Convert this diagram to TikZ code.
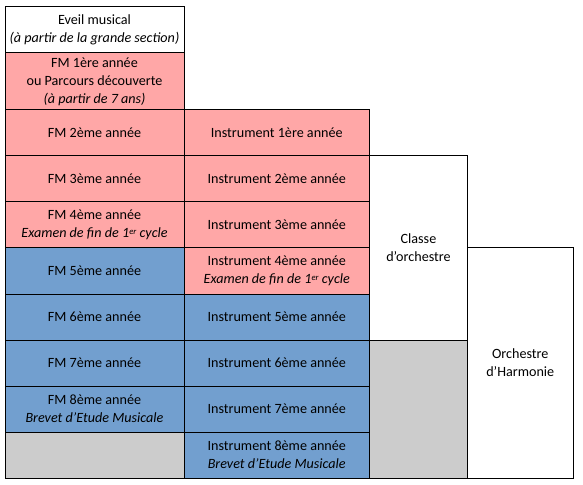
\documentclass[tikz,border=0pt]{standalone}
\usepackage{fontspec}
\setmainfont{Carlito}
\definecolor{pinkc}{RGB}{255,167,167}
\definecolor{bluec}{RGB}{114,159,207}
\definecolor{grayc}{RGB}{204,204,204}
\newcommand{\supx}[1]{\raisebox{0.45ex}{\fontsize{6.5}{7}\selectfont #1}}
\begin{document}
\begin{tikzpicture}[x=0.75pt,y=-0.75pt,
  cell/.style 2 args={draw=black, line width=0.75pt, inner sep=0pt, outer sep=0pt,
    minimum width=#1*0.75pt, minimum height=#2*0.75pt, align=center,
    font=\fontsize{10.6}{13.5}\selectfont},
  pk/.style={fill=pinkc}, bl/.style={fill=bluec}, gr/.style={fill=grayc}, wh/.style={fill=white}]
\useasboundingbox (0,0) rectangle (583,485);
% column A
\node[cell={179}{46}, wh] (eveil) at (94.5,30) {Eveil musical\\\textit{(à partir de la grande section)}};
\node[cell={179}{57}, pk] (fm1) at (94.5,81.5) {FM 1ère année\\ou Parcours découverte\\\textit{(à partir de 7 ans)}};
\node[cell={179}{46}, pk] (fm2) at (94.5,133) {FM 2ème année};
\node[cell={179}{46}, pk] (fm3) at (94.5,179) {FM 3ème année};
\node[cell={179}{46}, pk] (fm4) at (94.5,225) {FM 4ème année\\\textit{Examen de fin de 1\supx{er} cycle}};
\node[cell={179}{46}, bl] (fm5) at (94.5,271) {FM 5ème année};
\node[cell={179}{46}, bl] (fm6) at (94.5,317) {FM 6ème année};
\node[cell={179}{46}, bl] (fm7) at (94.5,363) {FM 7ème année};
\node[cell={179}{46}, bl] (fm8) at (94.5,409) {FM 8ème année\\\textit{Brevet d’Etude Musicale}};
\node[cell={179}{46}, gr] (ga) at (94.5,455) {};
% column B
\node[cell={185.5}{46}, pk] (i1) at (276.75,133) {Instrument 1ère année};
\node[cell={185.5}{46}, pk] (i2) at (276.75,179) {Instrument 2ème année};
\node[cell={185.5}{46}, pk] (i3) at (276.75,225) {Instrument 3ème année};
\node[cell={185.5}{46}, pk] (i4) at (276.75,271) {Instrument 4ème année\\\textit{Examen de fin de 1\supx{er} cycle}};
\node[cell={185.5}{46}, bl] (i5) at (276.75,317) {Instrument 5ème année};
\node[cell={185.5}{46}, bl] (i6) at (276.75,363) {Instrument 6ème année};
\node[cell={185.5}{46}, bl] (i7) at (276.75,409) {Instrument 7ème année};
\node[cell={185.5}{46}, bl] (i8) at (276.75,455) {Instrument 8ème année\\\textit{Brevet d’Etude Musicale}};
% column C
\node[cell={98}{184}, wh] (classe) at (418.5,248) {Classe\\d’orchestre};
\node[cell={98}{138}, gr] (gc) at (418.5,409) {};
% column D
\node[cell={105.5}{230}, wh] (harm) at (520.25,363) {Orchestre\\d’Harmonie};
\end{tikzpicture}
\end{document}
